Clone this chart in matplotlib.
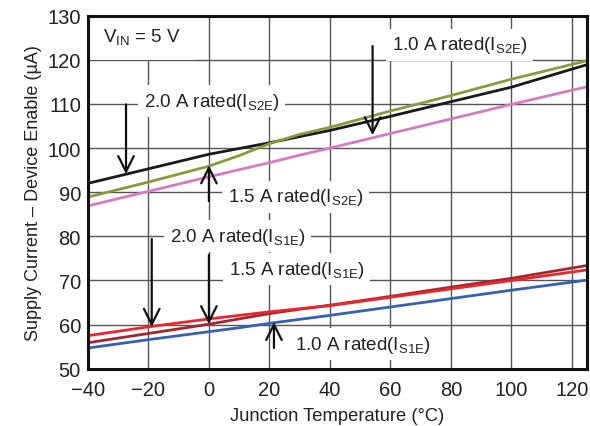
import matplotlib.pyplot as plt

plt.rcParams['font.family'] = ['Liberation Sans', 'DejaVu Sans']
plt.rcParams['mathtext.fontset'] = 'custom'
plt.rcParams['mathtext.rm'] = 'Liberation Sans'

# junction temperature (°C)
temp = [-40, -20, 0, 10, 20, 30, 40, 60, 80, 100, 125]

# supply current, device enable (uA)
s2e_20 = [92.0, 95.3, 98.6, 99.9, 101.2, 102.6, 104.0, 107.2, 110.5, 113.8, 118.9]
s2e_10 = [88.9, 92.3, 95.9, 98.3, 101.0, 103.1, 104.7, 108.4, 111.9, 115.6, 119.8]
s2e_15 = [86.9, 90.2, 93.5, 95.1, 96.7, 98.4, 100.0, 103.3, 106.6, 109.9, 113.9]
s1e_20 = [57.5, 59.5, 61.3, 62.1, 62.9, 63.6, 64.3, 66.2, 68.1, 70.0, 72.4]
s1e_15 = [55.9, 58.0, 60.1, 61.3, 62.5, 63.5, 64.4, 66.4, 68.5, 70.5, 73.4]
s1e_10 = [54.7, 56.6, 58.4, 59.3, 60.3, 61.2, 62.1, 64.0, 65.9, 67.8, 70.1]

fig = plt.figure(figsize=(5.9, 4.27), dpi=100)
ax = fig.add_axes([0.149, 0.134, 0.846, 0.827])

ax.plot(temp, s2e_15, color='#d47bc4', lw=2)
ax.plot(temp, s2e_20, color='#1a1a1a', lw=2)
ax.plot(temp, s2e_10, color='#8c9a3c', lw=2)
ax.plot(temp, s1e_10, color='#3461b0', lw=2)
ax.plot(temp, s1e_15, color='#a3282d', lw=2)
ax.plot(temp, s1e_20, color='#e8262e', lw=2)

ax.set_xlim(-40, 125)
ax.set_ylim(50, 130)
ax.set_xticks(range(-40, 121, 20))
ax.set_xticklabels(['\u221240', '\u221220', '0', '20', '40', '60', '80', '100', '120'])
ax.set_yticks(range(50, 131, 10))
ax.grid(True, color='#555555', lw=1)
ax.tick_params(length=0, labelsize=14.5, colors='#222222')
ax.tick_params(axis='x', pad=8)
ax.tick_params(axis='y', pad=5)
for s in ax.spines.values():
    s.set_linewidth(2.2)
    s.set_color('#111111')
    s.set_zorder(10)

ax.set_xlabel('Junction Temperature (°C)', fontsize=13.2, color='#222222', labelpad=6)
ax.set_ylabel('Supply Current \u2013 Device Enable (\u00b5A)', fontsize=13, color='#222222')

box = dict(facecolor='white', edgecolor='none', pad=4)
tk = dict(fontsize=13.5, color='#222222', zorder=5, va='center')

ax.text(-35, 125.3, 'V$_\\mathregular{IN}$ = 5 V', ha='left',
        bbox=dict(facecolor='white', edgecolor='none', pad=10), **tk)
ax.text(-21.5, 110.6, '2.0 A rated(I$_\\mathregular{S2E}$)', bbox=box, **tk)
ax.text(60.5, 123.4, '1.0 A rated(I$_\\mathregular{S2E}$)', bbox=box, **tk)
ax.text(6.3, 89.0, '1.5 A rated(I$_\\mathregular{S2E}$)', bbox=box, **tk)
ax.text(-12.9, 80.0, '2.0 A rated(I$_\\mathregular{S1E}$)', bbox=box, **tk)
ax.text(6.6, 72.6, '1.5 A rated(I$_\\mathregular{S1E}$)', bbox=box, **tk)
ax.text(28.5, 55.6, '1.0 A rated(I$_\\mathregular{S1E}$)', bbox=box, **tk)

arr = dict(arrowstyle='->', color='#111111', lw=1.6, mutation_scale=28,
           shrinkA=0, shrinkB=0)
arrows = [
    ((-27.4, 94.1), (-27.4, 109.9)),
    ((54.1, 102.9), (54.1, 123.1)),
    ((0, 96.1), (0, 88.0)),
    ((-18.9, 59.5), (-18.9, 79.4)),
    ((0, 60.1), (0, 75.8)),
    ((21.5, 60.6), (21.5, 54.7)),
]
for tip, tail in arrows:
    ax.annotate('', xy=tip, xytext=tail, arrowprops=arr, zorder=6)

fig.savefig('out.png', dpi=100)
